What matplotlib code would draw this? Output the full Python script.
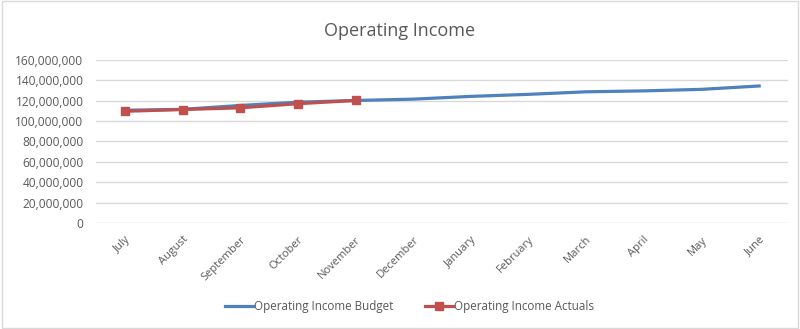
import matplotlib
matplotlib.use('Agg')
import matplotlib.pyplot as plt
from matplotlib.patches import Rectangle
from matplotlib.ticker import FuncFormatter

months = ['July', 'August', 'September', 'October', 'November', 'December',
          'January', 'February', 'March', 'April', 'May', 'June']
budget = [110.6e6, 111.5e6, 115.3e6, 118.5e6, 120.2e6, 121.5e6,
          124.2e6, 126.2e6, 128.7e6, 129.6e6, 131.1e6, 134.4e6]
actuals = [109.6e6, 111.3e6, 113.0e6, 117.0e6, 120.2e6]

plt.rcParams['font.family'] = ['Open Sans', 'DejaVu Sans']
grey = '#595959'

fig = plt.figure(figsize=(8, 3.29), dpi=100)
fig.patches.append(Rectangle((0.002, 0.003), 0.995, 0.994, transform=fig.transFigure,
                             fill=False, edgecolor='#d9d9d9', linewidth=1))
ax = fig.add_axes([0.12, 0.322, 0.865, 0.496])

x = range(len(months))
ax.plot(x, budget, color='#4F81BD', linewidth=2.3, label='Operating Income Budget')
ax.plot(range(len(actuals)), actuals, color='#C0504D', linewidth=2.3, marker='s',
        markersize=6, label='Operating Income Actuals')

ax.set_xlim(-0.5, len(months) - 0.5)
ax.set_ylim(0, 160e6)
ax.set_yticks(range(0, 160000001, 20000000))
ax.yaxis.set_major_formatter(FuncFormatter(lambda v, p: f'{int(v):,}'))
ax.grid(axis='y', color='#d9d9d9', linewidth=1)
ax.set_axisbelow(True)
for s in ax.spines.values():
    s.set_visible(False)
ax.tick_params(length=0, colors=grey, labelsize=8.6)
ax.tick_params(axis='y', pad=9)
ax.set_xticks(list(x))
ax.set_xticklabels(months, rotation=45, ha='right', rotation_mode='anchor', fontsize=8)
ax.tick_params(axis='x', pad=8)

fig.text(0.5, 0.906, 'Operating Income', ha='center', va='center', fontsize=13, color=grey)
fig.legend(loc='center', bbox_to_anchor=(0.512, 0.067), ncol=2, frameon=False,
           fontsize=8.4, labelcolor=grey, handlelength=2.4, handletextpad=0.1,
           columnspacing=2.7)

plt.savefig('out.png', dpi=100)
plt.close()
